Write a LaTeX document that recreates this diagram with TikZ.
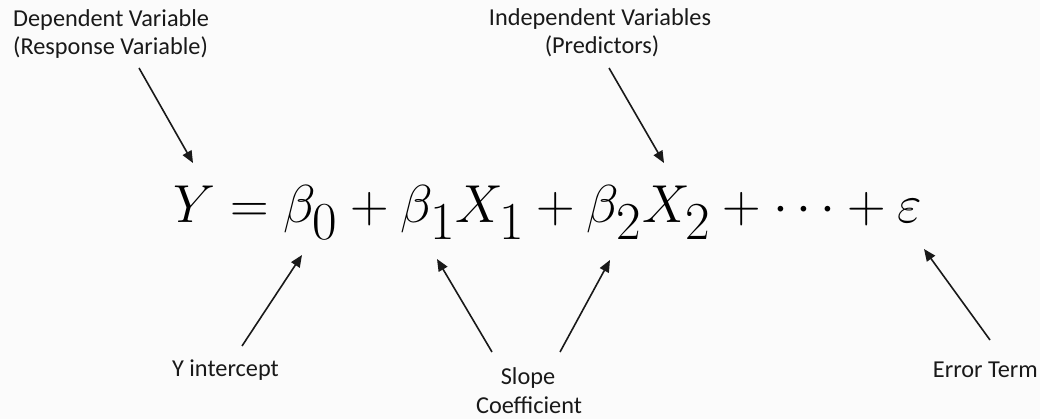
\documentclass[tikz,border=0pt]{standalone}
\usepackage{fontspec}
\setmainfont{Carlito}
\usetikzlibrary{arrows.meta}
\definecolor{bgc}{RGB}{251,251,251}
\definecolor{ink}{RGB}{25,25,25}
\begin{document}
\begin{tikzpicture}[x=1pt,y=-1pt,
  lbl/.style={inner sep=0pt,text=ink,font=\fontsize{24.3}{28}\selectfont},
  ptr/.style={draw=ink,line width=1.6pt,-{Triangle[length=12pt,width=10pt]}}]
\fill[bgc] (0,0) rectangle (1040,419);
\useasboundingbox (0,0) rectangle (1040,419);
% equation
\node[inner sep=0pt,anchor=base west,text=black] (eq) at (173,223)
  {\resizebox{749pt}{!}{\fontsize{58}{60}\selectfont$Y=\beta_0+\beta_1X_1+\beta_2X_2+\cdots+\varepsilon$}};
% labels
\node[lbl,anchor=base west] (dep1) at (13,27) {Dependent Variable};
\node[lbl,anchor=base west] (dep2) at (13,55) {(Response Variable)};
\node[lbl,anchor=base] (ind1) at (600,26) {Independent Variables};
\node[lbl,anchor=base] (ind2) at (602,54) {(Predictors)};
\node[lbl,anchor=base east] (yint) at (279,376) {Y intercept};
\node[lbl,anchor=base] (slope1) at (528,384) {Slope};
\node[lbl,anchor=base] (slope2) at (529,413) {Coefficient};
\node[lbl,anchor=base east] (err) at (1038,377) {Error Term};
% arrow ends
\coordinate (t1) at (139,68);   \coordinate (h1) at (193,163);
\coordinate (t2) at (609,68);   \coordinate (h2) at (664,163);
\coordinate (t3) at (242,346);  \coordinate (h3) at (302,255);
\coordinate (t4) at (492,352);  \coordinate (h4) at (437,259);
\coordinate (t5) at (560,352);  \coordinate (h5) at (610,260);
\coordinate (t6) at (990,340);  \coordinate (h6) at (924,249);
\draw[ptr] (t1) -- (h1);
\draw[ptr] (t2) -- (h2);
\draw[ptr] (t3) -- (h3);
\draw[ptr] (t4) -- (h4);
\draw[ptr] (t5) -- (h5);
\draw[ptr] (t6) -- (h6);
\end{tikzpicture}
\end{document}
